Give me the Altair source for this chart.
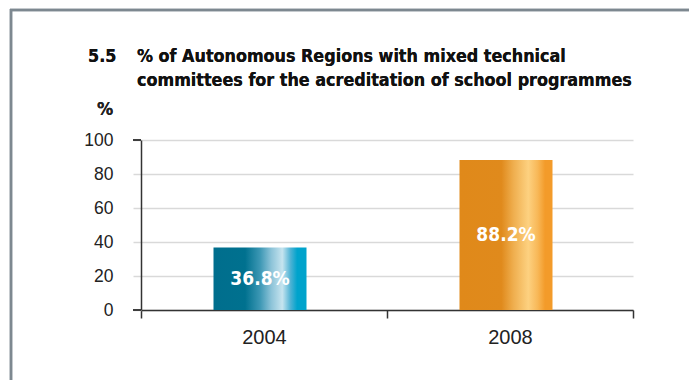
import altair as alt
import pandas as pd

years = ["2004", "2008"]
values = [36.8, 88.2]
labels = ["36.8%", "88.2%"]
title_num = "5.5"
title_lines = ["% of Autonomous Regions with mixed technical",
               "committees for the acreditation of school programmes"]
y_unit = "%"
y_ticks = [0, 20, 40, 60, 80, 100]

COND = "DejaVu Sans Condensed, Roboto Condensed, Roboto, sans-serif"

df = pd.DataFrame({"year": years, "value": values, "label": labels,
                   "mid": [v / 2 for v in values]})

blue_grad = alt.Gradient(
    gradient="linear", x1=0, x2=1, y1=0, y2=0,
    stops=[
        alt.GradientStop(color="#006E8D", offset=0),
        alt.GradientStop(color="#00718F", offset=0.34),
        alt.GradientStop(color="#3C97B4", offset=0.5),
        alt.GradientStop(color="#8CC3D8", offset=0.62),
        alt.GradientStop(color="#C6E4EF", offset=0.74),
        alt.GradientStop(color="#4DB2D4", offset=0.83),
        alt.GradientStop(color="#00A3CC", offset=0.9),
        alt.GradientStop(color="#00A3CC", offset=1),
    ])
orange_grad = alt.Gradient(
    gradient="linear", x1=0, x2=1, y1=0, y2=0,
    stops=[
        alt.GradientStop(color="#E0891A", offset=0),
        alt.GradientStop(color="#E08A1C", offset=0.45),
        alt.GradientStop(color="#EFAE4E", offset=0.58),
        alt.GradientStop(color="#FDD180", offset=0.74),
        alt.GradientStop(color="#F8B858", offset=0.84),
        alt.GradientStop(color="#F39B2A", offset=0.92),
        alt.GradientStop(color="#F39B2A", offset=1),
    ])

x_scale = alt.Scale(domain=years, paddingInner=0, paddingOuter=0)
y_scale = alt.Scale(domain=[0, 100], nice=False)

x_axis = alt.Axis(title=None, labelAngle=0, tickBand="extent",
                  labelFont="Liberation Sans", labelFontSize=20,
                  labelColor="#222222", labelPadding=9,
                  tickSize=8, tickColor="#333333", tickWidth=1.5,
                  domainColor="#333333", domainWidth=1.5,
                  grid=False)
y_axis = alt.Axis(title=None, values=y_ticks,
                  labelOverlap=False, labelFlush=False,
                  labelFont="Liberation Sans", labelFontSize=17.5,
                  labelColor="#222222", labelPadding=20,
                  tickSize=8, tickColor="#d9d9d9", tickWidth=1.5,
                  domainColor="#333333", domainWidth=1.5,
                  gridColor="#d9d9d9", gridWidth=1.5)

base = alt.Chart(df)
bars = alt.layer(
    base.transform_filter(alt.datum.year == years[0]).mark_bar(
        size=93, color=blue_grad, xOffset=-4),
    base.transform_filter(alt.datum.year == years[1]).mark_bar(
        size=93, color=orange_grad, xOffset=-4),
).encode(x=alt.X("year:N", sort=years, scale=x_scale, axis=x_axis),
         y=alt.Y("value:Q", scale=y_scale, axis=y_axis))

txt = base.mark_text(font=COND, fontWeight="bold",
                     fontSize=19, color="white", baseline="middle",
                     dx=-4).encode(
    x=alt.X("year:N", sort=years, scale=x_scale, axis=x_axis),
    y=alt.Y("mid:Q", scale=y_scale, axis=y_axis),
    text="label:N")

zero_tick = base.mark_rule(color="#333333", strokeWidth=1.5).encode(
    x=alt.value(-8), x2=alt.value(0), y=alt.value(170))
top_tick = base.mark_rule(color="#333333", strokeWidth=1.5).encode(
    x=alt.value(-8), x2=alt.value(0), y=alt.value(0))

title_style = dict(font=COND, fontWeight="bold",
                   fontSize=17.8, color="#111111", align="left",
                   baseline="alphabetic")
t_num = base.mark_text(**title_style).encode(
    x=alt.value(-53), y=alt.value(-78), text=alt.value(title_num))
t1 = base.mark_text(**title_style).encode(
    x=alt.value(-4), y=alt.value(-78), text=alt.value(title_lines[0]))
t2 = base.mark_text(**title_style).encode(
    x=alt.value(-4), y=alt.value(-54), text=alt.value(title_lines[1]))
t_unit = base.mark_text(font=COND, fontSize=18,
                        fontWeight="bold", color="#222222", align="left",
                        baseline="alphabetic").encode(
    x=alt.value(-44), y=alt.value(-25), text=alt.value(y_unit))

frame_top = base.mark_rule(color="#7D8890", strokeWidth=2.5).encode(
    x=alt.value(-131), x2=alt.value(560), y=alt.value(-130))
frame_left = base.mark_rule(color="#7D8890", strokeWidth=2.5).encode(
    x=alt.value(-130), y=alt.value(-131), y2=alt.value(260))

chart = alt.layer(bars, txt, zero_tick, top_tick, t_num, t1, t2, t_unit,
                  frame_top, frame_left).properties(
    width=492, height=170,
    view=alt.ViewBackground(stroke="transparent", strokeWidth=0),
    autosize=alt.AutoSizeParams(type="none"),
    padding={"left": 133, "top": 132, "right": 56, "bottom": 70},
).configure_view(stroke="transparent", strokeWidth=0).configure(
    background="white", style={"cell": {"stroke": "transparent"}})

chart.save("out.html", embed_options={"renderer": "svg", "actions": False})
